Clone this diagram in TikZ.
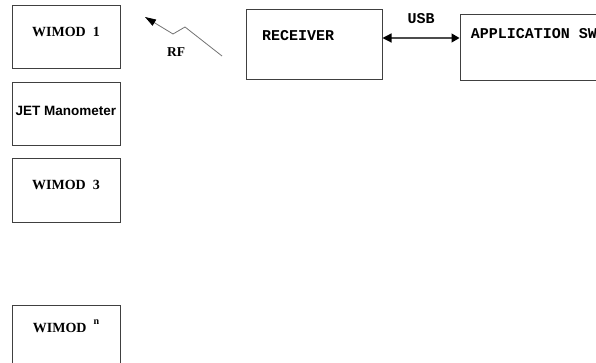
\documentclass[tikz,border=0pt]{standalone}
\usepackage{fontspec}
\setmainfont{Liberation Serif}
\newfontfamily\courierfont{Liberation Mono}
\newfontfamily\arialfont{Liberation Sans}
\usetikzlibrary{arrows.meta}
\usetikzlibrary{positioning}
\tikzstyle{wimod}=[draw=black!75, line width=1pt, minimum width=108pt, minimum height=63pt, inner sep=0pt, font=\fontsize{14}{16}\selectfont\bfseries, text height=10pt, text depth=12.7pt]
\tikzstyle{pcbox}=[draw=black!75, line width=1pt, inner sep=0pt, font=\fontsize{15}{17}\selectfont\courierfont\bfseries]
\tikzstyle{usb}=[draw=black!70, line width=1.2pt, {Triangle[length=9pt, width=9pt, color=black]}-{Triangle[length=8pt, width=9pt, color=black]}]
\tikzstyle{rf}=[draw=black!55, line width=0.8pt, -{Triangle[length=11pt, width=7pt, color=black]}]

\begin{document}
\begin{tikzpicture}[x=1pt, y=-1pt]
    \useasboundingbox (0,0) rectangle (596,363);
    \clip (0,0) rectangle (596,363);

    % Wireless modules (left column)
    \node[wimod] (w1) at (66,37.5) {WIMOD~~1};
    \node[wimod, below=13pt of w1, font=\fontsize{13.5}{15}\selectfont\arialfont\bfseries, text depth=7.7pt] (jet) {JET Manometer};
    \node[wimod, below=12pt of jet] (w3) {WIMOD~~3};
    \node[wimod, below=82pt of w3, text depth=18.7pt] (wn) {WIMOD~~\raisebox{8pt}{\fontsize{10}{11}\selectfont n}};

    % RF link
    \coordinate (rfa) at (222,56);
    \coordinate (rfb) at (185,27);
    \coordinate (rfc) at (173,34);
    \coordinate (rfd) at (145,17);
    \draw[rf] (rfa) -- (rfb) -- (rfc) -- (rfd);
    \node[font=\fontsize{13.5}{15}\selectfont\bfseries, inner sep=0pt] (rf) at (176,52) {RF};

    % Receiver and PC side
    \node[pcbox, minimum width=136pt, minimum height=70pt, text width=104pt, align=left, inner xsep=16pt, text height=10pt, text depth=19.5pt] (rcv) at (314,45) {RECEIVER};
    \node[pcbox, minimum width=148pt, minimum height=66pt, text height=10pt, text depth=29.5pt] (app) at (534,48) {APPLICATION SW};

    \draw[usb] ([yshift=7pt]rcv.east) -- node[above=14pt, inner sep=0pt, font=\fontsize{15}{17}\selectfont\courierfont\bfseries] (usblbl) {USB} ([yshift=10pt]app.west);

\end{tikzpicture}
\end{document}
